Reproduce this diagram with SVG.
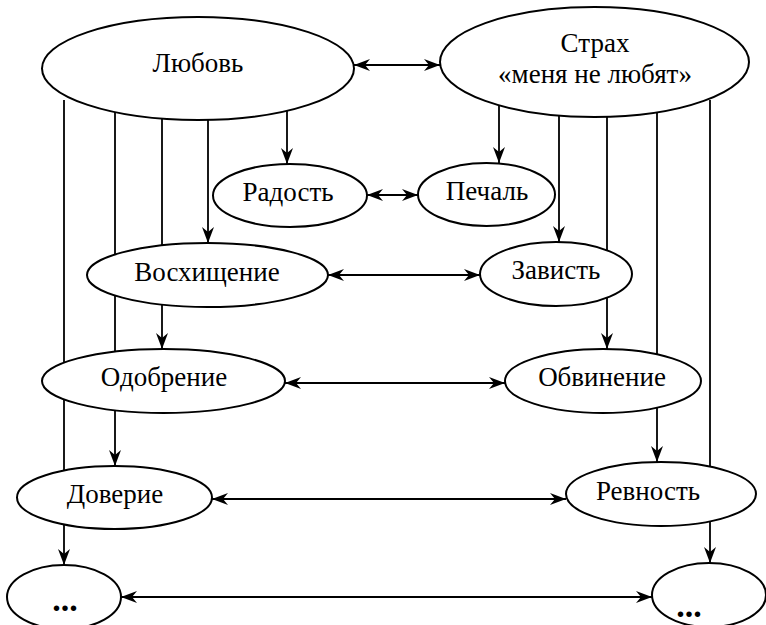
<svg xmlns="http://www.w3.org/2000/svg" width="766" height="625" viewBox="0 0 766 625">
<style>
.n{fill:#fff;stroke:#000;stroke-width:2}
.c{fill:none;stroke:#000;stroke-width:1.8}
text{font-family:'Liberation Serif','Times New Roman',serif;font-size:27px;text-anchor:middle;fill:#000}
.d{font-weight:bold;font-size:34px}
</style>
<defs>
<marker id="a" viewBox="-17 -7 18 14" refX="0" refY="0" markerWidth="18" markerHeight="14" markerUnits="userSpaceOnUse" orient="auto-start-reverse">
<path d="M0,0 L-16,-6 L-11,0 L-16,6 Z" fill="#000"/>
</marker>
</defs>
<g id="connectors">
<line class="c" x1="354" y1="65" x2="440" y2="65" marker-start="url(#a)" marker-end="url(#a)"/>
<line class="c" x1="367" y1="195" x2="418" y2="195" marker-start="url(#a)" marker-end="url(#a)"/>
<line class="c" x1="328" y1="275" x2="480" y2="275" marker-start="url(#a)" marker-end="url(#a)"/>
<line class="c" x1="285" y1="383" x2="505" y2="383" marker-start="url(#a)" marker-end="url(#a)"/>
<line class="c" x1="212" y1="499" x2="566" y2="499" marker-start="url(#a)" marker-end="url(#a)"/>
<line class="c" x1="121" y1="597" x2="652" y2="597" marker-start="url(#a)" marker-end="url(#a)"/>
<line class="c" x1="287" y1="100" x2="287" y2="164" marker-end="url(#a)"/>
<line class="c" x1="208" y1="100" x2="208" y2="243" marker-end="url(#a)"/>
<line class="c" x1="162" y1="100" x2="162" y2="349" marker-end="url(#a)"/>
<line class="c" x1="115" y1="100" x2="115" y2="466" marker-end="url(#a)"/>
<line class="c" x1="64" y1="100" x2="64" y2="565" marker-end="url(#a)"/>
<line class="c" x1="499" y1="100" x2="499" y2="163" marker-end="url(#a)"/>
<line class="c" x1="559" y1="100" x2="559" y2="242" marker-end="url(#a)"/>
<line class="c" x1="607" y1="100" x2="607" y2="349" marker-end="url(#a)"/>
<line class="c" x1="657" y1="100" x2="657" y2="462" marker-end="url(#a)"/>
<line class="c" x1="710" y1="100" x2="710" y2="563" marker-end="url(#a)"/>
</g>
<g id="lyubov"><ellipse class="n" cx="198" cy="68.5" rx="156" ry="51.5"/><text x="198" y="72">Любовь</text></g>
<g id="strakh"><ellipse class="n" cx="594.5" cy="62" rx="154.5" ry="55"/><text x="595" y="52">Страх</text><text x="595" y="83">«меня не любят»</text></g>
<g id="radost"><ellipse class="n" cx="290" cy="195.5" rx="77" ry="31.5"/><text x="288" y="201">Радость</text></g>
<g id="pechal"><ellipse class="n" cx="486.5" cy="194.5" rx="68.5" ry="31.5"/><text x="487" y="200">Печаль</text></g>
<g id="voskhishchenie"><ellipse class="n" cx="207.5" cy="275" rx="120.5" ry="32"/><text x="207" y="281">Восхищение</text></g>
<g id="zavist"><ellipse class="n" cx="556" cy="274" rx="76" ry="32"/><text x="556" y="279">Зависть</text></g>
<g id="odobrenie"><ellipse class="n" cx="163.5" cy="381" rx="121.5" ry="32"/><text x="164" y="386">Одобрение</text></g>
<g id="obvinenie"><ellipse class="n" cx="603" cy="381" rx="98" ry="32"/><text x="602" y="386">Обвинение</text></g>
<g id="doverie"><ellipse class="n" cx="114.5" cy="497.5" rx="97.5" ry="31.5"/><text x="115" y="503">Доверие</text></g>
<g id="revnost"><ellipse class="n" cx="661" cy="494" rx="95" ry="32"/><text x="648" y="500">Ревность</text></g>
<g id="etc-left"><ellipse class="n" cx="64" cy="597" rx="57" ry="32"/><text class="d" x="65" y="611">...</text></g>
<g id="etc-right"><ellipse class="n" cx="709" cy="595" rx="57" ry="32"/><text class="d" x="689" y="617">...</text></g>
</svg>
